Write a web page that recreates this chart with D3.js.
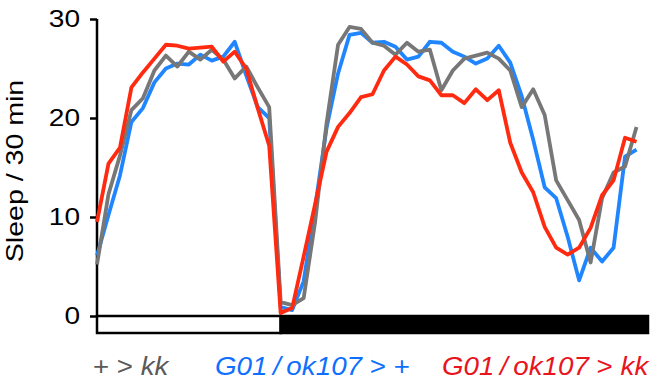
<!DOCTYPE html>
<html><head><meta charset="utf-8">
<script src="https://cdn.jsdelivr.net/npm/d3@7"></script>
<style>body{margin:0;background:#fff}svg{display:block}</style>
</head><body><div id="chart"></div>
<script>
const bins = d3.range(48);
const kkControl = [5.2,12.3,16.2,20.8,22.0,24.8,26.3,25.2,26.7,25.9,26.9,25.9,24.0,25.2,23.1,21.1,1.4,1.1,1.8,9.5,19.5,27.4,29.2,29.0,27.6,27.3,26.4,27.6,26.7,26.9,22.8,24.8,26.0,26.3,26.6,26.0,24.8,21.1,22.9,20.3,13.7,11.7,9.7,5.4,11.9,14.5,15.1,19.1];
const gal4Control = [6.1,10.2,14.2,19.6,21.0,23.6,25.0,25.5,25.4,26.4,25.8,26.2,27.7,24.3,21.1,20.0,0.9,0.6,3.5,11.0,19.0,24.5,28.4,28.6,27.6,27.7,27.2,25.9,26.2,27.7,27.6,26.7,26.2,25.5,26.0,27.3,25.6,22.2,17.8,13.0,11.9,8.0,3.6,6.9,5.5,6.9,16.1,16.8];
const knockdown = [9.5,15.4,17.0,23.1,24.6,26.0,27.4,27.3,27.0,27.1,27.2,25.7,26.7,25.0,21.0,17.2,0.3,0.8,6.0,11.3,16.6,19.1,20.5,22.1,22.4,24.8,26.2,25.4,24.2,23.8,22.3,22.3,21.5,22.9,21.8,22.8,17.5,14.5,12.5,9.0,6.9,6.2,6.9,8.9,12.2,13.7,18.0,17.6];
const yTicks = [0,10,20,30];
const phases = [{start:0,end:16,fill:"#fff"},{start:16,end:48,fill:"#000"}];
const seriesColors = ["#1f86ff","#777777","#ff2a10"];

const W=655,H=380;
const font="Liberation Sans, Arial, Helvetica, sans-serif";
const stretch=1.17;
const svg=d3.select("#chart").append("svg").attr("width",W).attr("height",H);
const x=d3.scaleLinear().domain([0,48]).range([97,648]);
const y=d3.scaleLinear().domain([0,30]).range([316,19]);

// y axis
const yAxis=d3.axisLeft(y).tickValues(yTicks).tickSize(7).tickPadding(10);
const ga=svg.append("g").attr("transform","translate(97,0)").call(yAxis);
ga.select(".domain").attr("stroke","#000").attr("stroke-width",2.5).attr("d","M0,19V316");
ga.selectAll(".tick line").attr("stroke","#000").attr("stroke-width",2.5);
ga.selectAll(".tick text").attr("font-family",font).attr("font-size",24).attr("fill","#000")
  .attr("x",-17/stretch).attr("transform",`scale(${stretch},1)`);

svg.append("text").attr("transform",`translate(22.5,171) rotate(-90) scale(${stretch+0.02},1)`)
  .attr("text-anchor","middle").attr("font-family",font)
  .attr("font-size",24).text("Sleep / 30 min");

// light/dark bar
svg.selectAll("rect.phase").data(phases).join("rect").attr("class","phase")
  .attr("x",d=>x(d.start)).attr("width",d=>x(d.end)-x(d.start))
  .attr("y",y(0)).attr("height",17).attr("fill",d=>d.fill)
  .attr("stroke","#000").attr("stroke-width",2.5);

// lines
const line=d3.line().x((d,i)=>x(bins[i])).y(d=>y(d));
const data=[gal4Control,kkControl,knockdown];
svg.selectAll("path.series").data(data).join("path").attr("class","series")
  .attr("d",line).attr("fill","none")
  .attr("stroke",(d,i)=>seriesColors[i]).attr("stroke-width",3.8)
  .attr("stroke-linejoin","round");

// labels
function label(x0,x1,color,parts){
  const g=svg.append("g");
  const t=g.append("text").attr("x",0).attr("y",0).attr("font-family",font)
    .attr("font-size",25).attr("fill",color);
  parts.forEach(p=>t.append("tspan").attr("font-style",p[1]?"italic":"normal").text(p[0]));
  const bb=t.node().getBBox();
  const sx=(x1-x0)/bb.width;
  g.attr("transform",`translate(${x0 - bb.x*sx},374.5) scale(${sx},1)`);
}
label(93,170,"#5a5a5a",[["+ > ",false],["kk",true]]);
label(215,410,"#0f6fff",[["G01\u2009/\u2009ok107",true],[" > +",false]]);
label(442,650,"#e8141e",[["G01\u2009/\u2009ok107",true],[" > ",false],["kk",true]]);
</script></body></html>
